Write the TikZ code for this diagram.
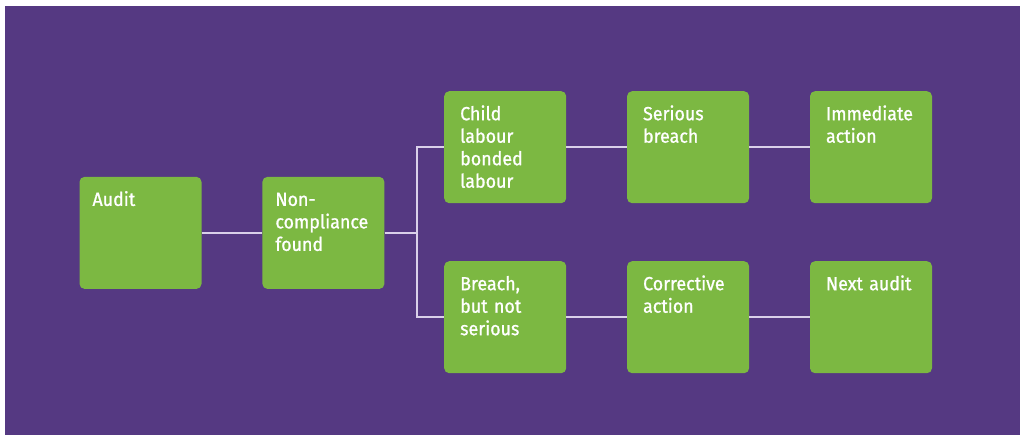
\documentclass[tikz,border=0pt]{standalone}
\usepackage{fontspec}
\newfontfamily\stagefont{Fira Sans}[FakeStretch=0.94,FakeBold=1]
\usetikzlibrary{positioning}
\definecolor{bgpurple}{RGB}{85,57,130}
\definecolor{boxgreen}{RGB}{124,184,66}
\definecolor{linklilac}{RGB}{218,208,234}

\begin{document}
\begin{tikzpicture}[x=1pt,y=1pt,
    stage/.style={rectangle,fill=boxgreen,rounded corners=5pt,text=white,anchor=north west,
        minimum width=122pt,text width=90pt,inner xsep=16pt,inner ysep=0pt,
        text height=29pt,text depth=83pt,align=left,font=\stagefont\fontsize{19}{22.5}\selectfont},
    link/.style={draw=linklilac,line width=1.5pt}]
    % Background
    \fill[white] (0,0) rectangle (1020,-435);
    \useasboundingbox (0,0) rectangle (1020,-435);
    \fill[bgpurple] (5,-6) rectangle (1020,-435);

    % Start of the chain
    \node[stage,inner xsep=13pt,text width=96pt] (audit) at (79.3,-176.7) {Audit};
    \node[stage,inner xsep=13pt,text width=96pt,right=60.5pt of audit] (noncomp) {Non-\\compliance\\found};

    % Serious branch
    \node[stage] (child) at (444,-91) {Child\\labour\\bonded\\labour};
    \node[stage,right=60.5pt of child] (serious) {Serious\\breach};
    \node[stage,right=60.5pt of serious] (immediate) {Immediate\\action};

    % Minor branch
    \node[stage] (breach) at (444,-261) {Breach,\\but not\\serious};
    \node[stage,right=60.5pt of breach] (corrective) {Corrective\\action};
    \node[stage,right=60.5pt of corrective] (nextaudit) {Next audit};

    % Connectors
    \draw[link] (audit) -- (noncomp);
    \draw[link] (noncomp.east) -- ++(32.4,0) coordinate (split);
    \draw[link] (child.west) -| (split) |- (breach.west);
    \draw[link] (child) -- (serious);
    \draw[link] (serious) -- (immediate);
    \draw[link] (breach) -- (corrective);
    \draw[link] (corrective) -- (nextaudit);
\end{tikzpicture}
\end{document}
